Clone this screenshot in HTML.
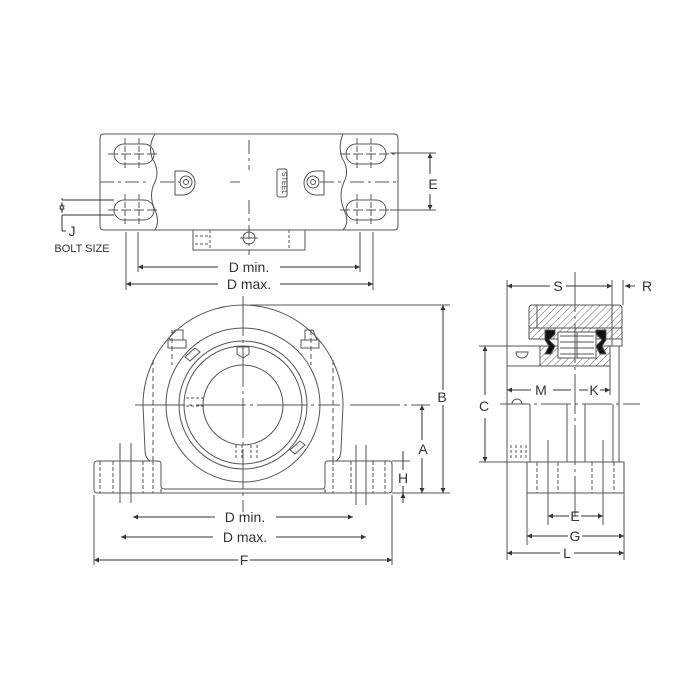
<!DOCTYPE html>
<html><head><meta charset="utf-8"><style>
html,body{margin:0;padding:0;background:#fff;}
svg{display:block;}
text{font-family:"Liberation Sans",sans-serif;fill:#333;}
</style></head><body>
<svg width="700" height="700" viewBox="0 0 700 700" xmlns="http://www.w3.org/2000/svg">
<defs>
<marker id="a" viewBox="0 0 10 10" refX="10" refY="5" markerWidth="8" markerHeight="5" orient="auto-start-reverse" markerUnits="userSpaceOnUse"><path d="M0,0L10,5L0,10z" fill="#333"/></marker>
<pattern id="h" width="5" height="5" patternUnits="userSpaceOnUse" patternTransform="rotate(45)"><line x1="0" y1="0" x2="0" y2="5" stroke="#666" stroke-width="1"/></pattern>
</defs>
<g fill="none" stroke="#555" stroke-width="1">
<!-- TOP VIEW -->
<path d="M104,134 H155 Q148,145 152,158 Q160,170 155,182 Q148,195 155,210 Q160,222 155,230 H104 Q100,230 100,226 V138 Q100,134 104,134Z"/>
<path d="M155,134 H343 Q338,145 342,158 Q350,170 344,182 Q338,195 344,210 Q350,222 343,230 H155"/>
<path d="M343,134 H394 Q398,134 398,138 V226 Q398,230 394,230 H343"/>
<rect x="114" y="144" width="40" height="20" rx="10"/>
<rect x="114" y="200" width="40" height="20" rx="10"/>
<rect x="346" y="144" width="40" height="20" rx="10"/>
<rect x="346" y="200" width="40" height="20" rx="10"/>
<path d="M125,138v30M139,138v30M125,194v30M139,194v30M357,138v30M371,138v30M357,194v30M371,194v30" stroke-dasharray="6,2"/>
<path d="M108,154h52M108,210h52M340,154h55M340,210h55" stroke-dasharray="10,3"/>
<path d="M100,182H150M240,182h-10M350,182H398M160,182h20M320,182h25" stroke-dasharray="14,4,3,4"/>
<path d="M249,140v30M249,200v55" stroke-dasharray="14,4,3,4"/>
<path d="M175,171h8a12,12 0 0 1 0,24h-8z"/><circle cx="186" cy="182" r="6"/><circle cx="186" cy="182" r="2.5"/>
<path d="M324,171h-8a12,12 0 0 0 0,24h8z"/><circle cx="313" cy="182" r="6"/><circle cx="313" cy="182" r="2.5"/>
<rect x="277" y="169" width="10" height="28" rx="2"/>
<rect x="193" y="230" width="112" height="20"/>
<path d="M210,230v20M289,230v20M195,236h14M195,244h14" stroke-dasharray="3,2"/>
<circle cx="249" cy="238" r="6"/><path d="M240,238h18"/>
<!-- top dims -->
<path d="M126,232V290M138,232V272M360,232V272M373,232V290"/>
<path d="M138,267H218M280,267H360" marker-start="url(#a)" marker-end="url(#a)" stroke="#333"/>
<path d="M126,284H218M280,284H373" marker-start="url(#a)" marker-end="url(#a)" stroke="#333"/>
<path d="M390,153H436M390,210H436"/>
<path d="M430,153V174M430,194V210" stroke="#333" marker-start="url(#a)" marker-end="url(#a)"/>
<path d="M62,200H114M62,215H114M62,200v-2M62,215v16M62,231h4" stroke="#333"/>
<path d="M62,203L60,209H64Z M62,212L60,206H64Z" fill="#333"/>
<!-- FRONT VIEW -->
<path d="M150,461 Q145,458 145,450 L143,405 A100,100 0 0 1 343,405 L341,450 Q341,458 336,461"/>
<path d="M98,461H158Q161,461 161,464V486Q161,489 164,489H322Q325,489 325,486V464Q325,461 328,461H389Q392,461 392,464V490Q392,493 389,493H98Q94,493 94,490V464Q94,461 98,461Z"/>
<path d="M161,489V493M325,489V493"/>
<circle cx="243" cy="405" r="77"/><circle cx="243" cy="405" r="64"/><circle cx="243" cy="405" r="59"/><circle cx="243" cy="405" r="40"/>
<path d="M100,461v32M113,461v32M143,461v32M153,461v32M333,461v32M351,461v32M373,461v32M385,461v32" stroke-dasharray="4,2"/>
<path d="M120,443v60M131,443v60M356,445v60M366,445v60"/>
<path d="M153,360V461M333,360V461M172,330v35M311,330v35" stroke-dasharray="5,3"/>
<path d="M171,340h12v-10h-8l-6,8zM305,340h12l-4,-10h-8z"/>
<path d="M168,340h18v8h-18zM301,340h18v8h-18z"/>
<path d="M237,347h12v7l-6,4l-6,-4z"/>
<path d="M186,398h20M186,406h20M236,445v15M242,445v15M251,445v15M257,445v15" stroke-dasharray="3,2"/>
<path d="M185,357l10,-9l5,4l-10,9zM290,450l10,-9l5,4l-10,9z"/>
<path d="M243,296V512" stroke-dasharray="40,4,3,4"/>
<path d="M135,405H340M350,405H430" stroke-dasharray="50,4,3,4"/>
<path d="M250,305H450M392,493H450M392,461H410"/>
<path d="M443,305V390M443,405V493" stroke="#333" marker-start="url(#a)" marker-end="url(#a)"/>
<path d="M422,405V440M422,458V493" stroke="#333" marker-start="url(#a)" marker-end="url(#a)"/>
<path d="M403,451V461M403,503V493" stroke="#333" marker-end="url(#a)"/>
<path d="M403,461V470M403,486V493" stroke="#333"/>
<path d="M94,495V565M392,495V565"/>
<path d="M133,517H215M276,517H353" stroke="#333" marker-start="url(#a)" marker-end="url(#a)"/>
<path d="M121,537H213M276,537H366" stroke="#333" marker-start="url(#a)" marker-end="url(#a)"/>
<path d="M94,560H238M250,560H392" stroke="#333" marker-start="url(#a)" marker-end="url(#a)"/>
<!-- SIDE VIEW -->
<path d="M507,280V346M612,280V346M623,280V305"/>
<path d="M507,286H550M566,286H612" stroke="#333" marker-start="url(#a)" marker-end="url(#a)"/>
<path d="M635,286H625" stroke="#333" marker-end="url(#a)"/>
<path d="M532,305H619Q622,305 622,309V339H529V309Q529,305 532,305Z" fill="url(#h)"/>
<path d="M537,305V328M529,328H622M612,305V339" />
<path d="M529,339H622V346H610"/>
<path d="M507,346H540V366H507Z" fill="#fff"/>
<path d="M540,346H610V366H540Z" fill="url(#h)"/>
<path d="M516,352a6,6 0 0 0 12,0z"/>
<rect x="558" y="332" width="38" height="26" fill="#fff"/>
<path d="M560,336h34M560,342h34M560,348h34M560,354h34M577,332v26"/>
<path d="M545,330h10v4l-6,6l6,6l-4,8h-6l4,-8l-4,-6z" fill="#111"/>
<path d="M606,330h-10v4l6,6l-6,6l4,8h6l-4,-8l4,-6z" fill="#111"/>
<path d="M575,272V520" stroke-dasharray="40,4,3,4"/>
<path d="M507,366V462M610,366V395M619,346V462"/>
<path d="M507,390H531M553,390H571M579,390H588M600,390H610" stroke="#333" marker-start="url(#a)" marker-end="url(#a)"/>
<path d="M500,404H640" stroke-dasharray="30,4,3,4"/>
<path d="M530,404V462M567,404V462M585,404V462M613,404V462M548,440V525M603,440V525"/>
<path d="M512,404a5,5 0 0 1 10,0"/>
<path d="M511,445v15M516,445v15M521,445v15M526,445v15" stroke-dasharray="3,2"/>
<path d="M479,346H507M479,462H527"/>
<path d="M485,346V395M485,418V462" stroke="#333" marker-start="url(#a)" marker-end="url(#a)"/>
<rect x="527" y="462" width="97" height="31"/>
<path d="M537,462v31M558,462v31M592,462v31M614,462v31" stroke-dasharray="4,2"/>
<path d="M507,462V560M527,493V545M624,493V560"/>
<path d="M548,516H569M581,516H603" stroke="#333" marker-start="url(#a)" marker-end="url(#a)"/>
<path d="M527,536H568M582,536H624" stroke="#333" marker-start="url(#a)" marker-end="url(#a)"/>
<path d="M507,553H560M574,553H624" stroke="#333" marker-start="url(#a)" marker-end="url(#a)"/>
</g>
<g font-size="14" text-anchor="middle">
<text x="249" y="272">D  min.</text>
<text x="249" y="289">D  max.</text>
<text x="433" y="189">E</text>
<text x="72" y="236">J</text>
<text x="82" y="252" font-size="11">BOLT SIZE</text>
<text x="442" y="402">B</text>
<text x="423" y="454">A</text>
<text x="403" y="483">H</text>
<text x="245" y="522">D  min.</text>
<text x="245" y="542">D  max.</text>
<text x="244" y="565">F</text>
<text x="558" y="291">S</text>
<text x="647" y="291">R</text>
<text x="541" y="395">M</text>
<text x="594" y="395">K</text>
<text x="484" y="411">C</text>
<text x="575" y="521">E</text>
<text x="575" y="541">G</text>
<text x="567" y="558">L</text>
<text x="282" y="183" font-size="7" transform="rotate(90 282 183)">STEEL</text>
</g>
</svg>
</body></html>
